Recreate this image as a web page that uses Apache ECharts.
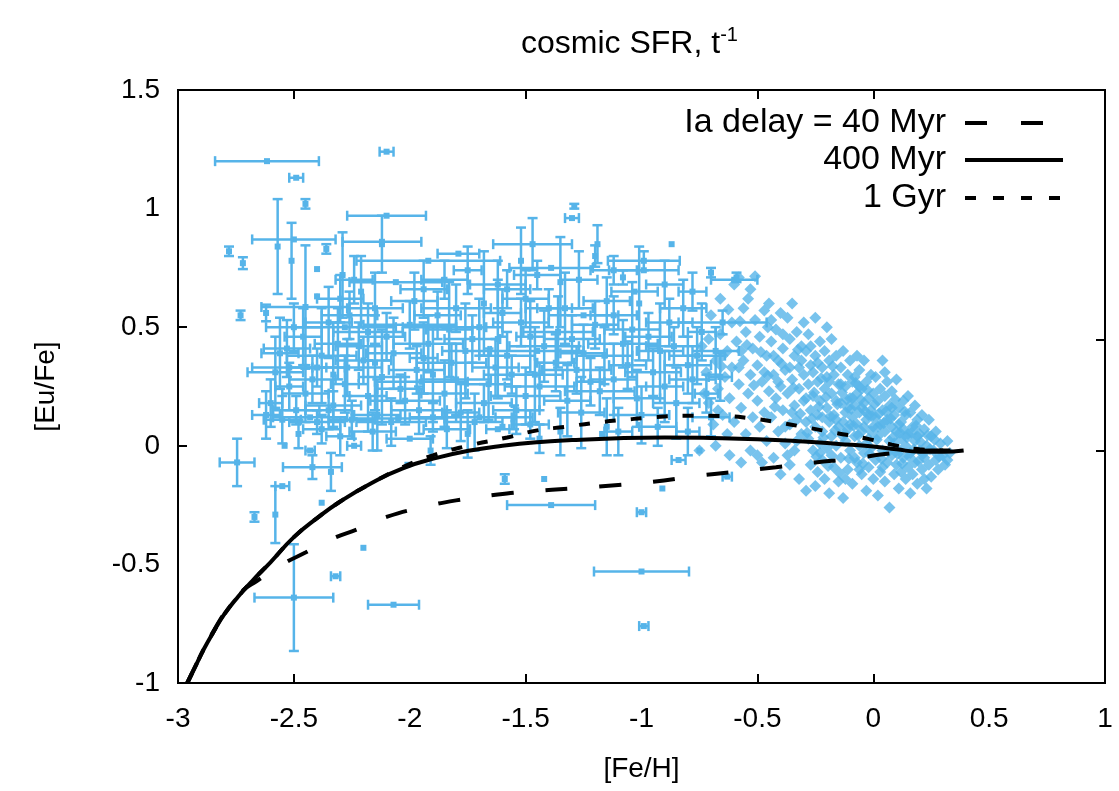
<!DOCTYPE html>
<html>
<head>
<meta charset="utf-8">
<script src="https://cdn.jsdelivr.net/npm/echarts@6/dist/echarts.min.js"></script>
<style>
  html, body { margin: 0; padding: 0; background: #fff; }
  #chart { width: 1119px; height: 791px; }
</style>
</head>
<body>
<div id="chart"></div>
<script>
// axis ticks (labels every 0.5, tick marks only where the original shows them)
var xTicksBottom = [-2.5, -1.5, -0.5, 0];
var yTicksLeft = [0.5, 0];
var yTicksRight = [0.446, -0.022];

// model curves [Fe/H, Eu/Fe]
var delay40 = [[-2.96,-1.0],[-2.90,-0.88],[-2.84,-0.77],[-2.78,-0.68],[-2.72,-0.61],[-2.66,-0.57],[-2.55,-0.5],[-2.45,-0.45],[-2.33,-0.39],[-2.22,-0.35],[-2.10,-0.30],[-1.95,-0.26],[-1.80,-0.23],[-1.62,-0.205],[-1.45,-0.19],[-1.27,-0.178],[-1.10,-0.165],[-0.95,-0.152],[-0.77,-0.128],[-0.60,-0.11],[-0.42,-0.09],[-0.25,-0.07],[-0.10,-0.055],[0.05,-0.035],[0.15,-0.025],[0.25,-0.02],[0.39,-0.02]];
var delay400 = [[-2.96,-1.0],[-2.92,-0.92],[-2.89,-0.86],[-2.85,-0.79],[-2.80,-0.71],[-2.74,-0.635],[-2.68,-0.57],[-2.60,-0.49],[-2.50,-0.385],[-2.40,-0.305],[-2.30,-0.235],[-2.17,-0.16],[-2.03,-0.095],[-1.88,-0.05],[-1.74,-0.02],[-1.60,0.0],[-1.45,0.015],[-1.30,0.024],[-1.10,0.032],[-0.90,0.035],[-0.70,0.033],[-0.50,0.028],[-0.30,0.018],[-0.15,0.008],[0.0,-0.003],[0.10,-0.015],[0.20,-0.025],[0.30,-0.025],[0.39,-0.02]];
var delay1000 = [[-2.96,-1.0],[-2.92,-0.92],[-2.89,-0.86],[-2.85,-0.79],[-2.80,-0.71],[-2.74,-0.635],[-2.68,-0.57],[-2.60,-0.49],[-2.50,-0.385],[-2.40,-0.305],[-2.30,-0.235],[-2.17,-0.16],[-2.03,-0.09],[-1.90,-0.04],[-1.75,0.0],[-1.58,0.035],[-1.45,0.065],[-1.33,0.08],[-1.20,0.097],[-1.07,0.11],[-0.95,0.12],[-0.80,0.127],[-0.66,0.126],[-0.52,0.115],[-0.40,0.097],[-0.28,0.076],[-0.16,0.054],[-0.04,0.033],[0.08,0.005],[0.20,-0.015],[0.30,-0.02],[0.39,-0.02]];

// halo stars with error bars [Fe/H, Eu/Fe, err Fe/H, err Eu/Fe]
var haloStars = [
  [-2.616,1.20,0.224,0.0],[-2.10,1.24,0.03,0.0],[-2.49,1.13,0.03,0.0],[-2.45,1.02,0.0,0.02],
  [-2.57,0.84,0.0,0.2],[-2.51,0.78,0.0,0.16],[-2.10,0.97,0.17,0.0],[-2.50,0.87,0.18,0.0],
  [-2.29,0.72,0.0,0.18],[-2.12,0.85,0.0,0.12],[-2.12,0.86,0.17,0.0],[-1.92,0.78,0.31,0.0],
  [-2.78,0.82,0.0,0.02],[-2.72,0.77,0.0,0.025],[-2.36,0.83,0.0,0.02],[-2.73,0.55,0.0,0.02],
  [-1.47,0.85,0.17,0.11],[-1.29,1.01,0.0,0.01],[-1.30,0.96,0.03,0.0],[-0.99,0.78,0.155,0.04],
  [-1.01,0.60,0.0,0.24],[-1.19,0.85,0.0,0.08],[-0.87,0.85,0.0,0.0],[-0.70,0.73,0.0,0.02],
  [-0.59,0.71,0.0,0.02],[-1.08,0.71,0.0,0.03],[-1.79,0.81,0.09,0.0],[-2.21,0.65,0.0,0.15],
  [-2.06,0.69,0.2,0.0],[-2.45,0.585,0.19,0.26],[-2.62,0.56,0.0,0.035],[-2.40,0.745,0.0,0.0],
  [-2.40,0.63,0.0,0.0],[-2.52,0.33,0.16,0.0],[-1.68,0.60,0.0,0.22],[-1.35,0.69,0.0,0.19],
  [-1.39,0.75,0.18,0.0],[-1.52,0.78,0.0,0.14],[-1.20,0.80,0.0,0.045],[-1.03,0.65,0.1,0.0],
  [-0.60,0.70,0.1,0.0],[-0.65,0.52,0.19,0.05],[-0.99,0.74,0.15,0.0],
  // rows of the crowded halo region
  [-2.55,0.11,0.08,0.10],[-2.40,0.10,0.12,0.05],[-2.25,0.11,0.10,0.08],[-2.08,0.10,0.15,0.10],
  [-1.90,0.12,0.10,0.06],[-1.72,0.10,0.12,0.12],[-1.55,0.12,0.08,0.05],
  [-2.48,0.05,0.0,0.06],[-2.30,0.04,0.06,0.08],[-2.00,0.03,0.10,0.0],[-1.75,0.05,0.0,0.10],
  [-1.62,0.07,0.05,0.0],[-1.35,0.06,0.0,0.10],[-1.15,0.08,0.0,0.12],
  [-2.60,0.18,0.05,0.10],[-2.45,0.22,0.10,0.12],[-2.33,0.17,0.12,0.06],[-2.18,0.21,0.08,0.15],
  [-2.02,0.19,0.15,0.10],[-1.85,0.22,0.10,0.14],[-1.68,0.18,0.12,0.08],[-1.50,0.21,0.15,0.12],
  [-1.32,0.19,0.10,0.15],[-1.18,0.23,0.15,0.10],[-1.02,0.20,0.10,0.12],[-0.85,0.18,0.10,0.15],
  [-0.72,0.22,0.05,0.08],
  [-2.58,0.31,0.12,0.15],[-2.42,0.28,0.10,0.10],[-2.27,0.33,0.15,0.12],[-2.12,0.29,0.10,0.20],
  [-1.97,0.32,0.12,0.10],[-1.80,0.28,0.15,0.15],[-1.63,0.33,0.10,0.12],[-1.46,0.30,0.12,0.20],
  [-1.28,0.32,0.15,0.10],[-1.12,0.28,0.10,0.15],[-0.95,0.31,0.12,0.10],[-0.80,0.34,0.10,0.12],
  [-0.66,0.29,0.05,0.10],
  [-2.53,0.41,0.10,0.12],[-2.38,0.38,0.15,0.20],[-2.22,0.42,0.10,0.10],[-2.07,0.39,0.12,0.15],
  [-1.92,0.43,0.15,0.12],[-1.76,0.40,0.10,0.20],[-1.58,0.38,0.12,0.10],[-1.42,0.42,0.15,0.15],
  [-1.25,0.39,0.10,0.12],[-1.08,0.43,0.15,0.10],[-0.92,0.40,0.10,0.20],[-0.76,0.38,0.12,0.12],
  [-2.50,0.50,0.12,0.10],[-2.35,0.52,0.10,0.15],[-2.18,0.48,0.15,0.12],[-2.00,0.51,0.20,0.10],
  [-1.83,0.49,0.10,0.20],[-1.70,0.50,0.10,0.12],[-1.52,0.52,0.12,0.10],[-1.36,0.48,0.15,0.15],
  [-1.20,0.51,0.10,0.10],[-1.04,0.49,0.12,0.20],[-0.88,0.52,0.10,0.10],
  [-2.30,0.62,0.10,0.10],[-2.15,0.58,0.12,0.15],[-1.98,0.61,0.10,0.12],[-1.80,0.58,0.15,0.10],
  [-1.50,0.62,0.10,0.12],[-1.33,0.58,0.12,0.15],[-1.15,0.61,0.10,0.10],[-0.82,0.58,0.10,0.12],
  [-1.85,0.70,0.10,0.08],[-1.62,0.68,0.12,0.10],[-1.45,0.72,0.10,0.06],
  [-2.35,0.15,0.10,0.08],[-2.28,0.26,0.06,0.12],[-2.20,0.36,0.12,0.10],[-2.14,0.13,0.10,0.15],
  [-2.10,0.46,0.08,0.10],[-2.04,0.24,0.10,0.06],[-1.96,0.15,0.12,0.10],[-1.94,0.37,0.06,0.15],
  [-1.88,0.55,0.10,0.10],[-1.82,0.35,0.15,0.08],[-1.78,0.14,0.08,0.12],[-1.73,0.45,0.12,0.10],
  [-1.66,0.26,0.10,0.15],[-1.60,0.56,0.08,0.10],[-1.56,0.30,0.12,0.08],[-1.54,0.15,0.10,0.10],
  [-1.48,0.46,0.06,0.15],[-1.44,0.25,0.15,0.10],[-1.40,0.58,0.10,0.08],[-1.37,0.35,0.08,0.12],
  [-1.30,0.45,0.12,0.10],[-1.26,0.14,0.10,0.15],[-1.22,0.27,0.06,0.10],[-1.16,0.38,0.12,0.12],
  [-1.12,0.55,0.10,0.08],[-1.06,0.34,0.08,0.10],[-1.00,0.13,0.12,0.12],[-0.97,0.46,0.10,0.10],
  [-0.90,0.25,0.08,0.15],[-0.86,0.42,0.12,0.08],[-0.78,0.28,0.10,0.10],[-0.74,0.48,0.06,0.12],
  [-0.70,0.12,0.08,0.08],[-0.68,0.40,0.10,0.10],
  [-2.46,0.46,0.08,0.12],[-2.40,0.33,0.12,0.08],[-2.31,0.43,0.10,0.15],[-2.26,0.55,0.12,0.10],
  [-2.52,0.25,0.06,0.10],[-2.56,0.39,0.08,0.15],[-2.62,0.13,0.06,0.10],[-2.49,0.15,0.10,0.06],
  [-2.38,0.07,0.08,0.06],[-2.16,0.06,0.10,0.08],[-1.84,0.07,0.10,0.08],[-1.48,0.09,0.08,0.06],
  [-1.10,0.06,0.06,0.10],[-0.93,0.08,0.08,0.08],[-0.80,0.06,0.05,0.10],
  [-2.24,0.70,0.08,0.10],[-1.94,0.66,0.10,0.12],[-1.75,0.74,0.06,0.10],[-1.58,0.66,0.10,0.08],
  [-1.27,0.70,0.08,0.12],[-1.12,0.74,0.10,0.06],[-0.90,0.68,0.08,0.10],[-0.78,0.65,0.06,0.08],
  [-2.43,0.12,0.16,0.0],[-2.05,0.115,0.2,0.0],[-1.70,0.12,0.14,0.0],[-2.28,0.50,0.22,0.0],
  [-1.85,0.50,0.18,0.0],[-1.45,0.40,0.2,0.0],[-1.95,0.27,0.2,0.0],[-1.25,0.55,0.15,0.0],
  [-2.15,0.35,0.0,0.2],[-1.62,0.45,0.0,0.25],[-1.90,0.30,0.0,0.2],[-2.33,0.30,0.0,0.22],
  // low outliers
  [-2.745,-0.07,0.075,0.10],[-2.58,-0.29,0.0,0.12],[-2.55,-0.17,0.03,0.0],[-2.67,-0.30,0.0,0.02],
  [-2.42,-0.09,0.127,0.05],[-2.34,-0.11,0.0,0.08],[-2.38,-0.24,0.0,0.0],[-2.20,-0.43,0.0,0.0],
  [-2.32,-0.55,0.02,0.0],[-2.50,-0.64,0.17,0.225],[-2.07,-0.67,0.11,0.0],[-1.91,-0.02,0.0,0.06],
  [-2.01,-0.08,0.0,0.0],[-2.24,0.0,0.03,0.0],[-2.43,-0.02,0.02,0.0],[-2.54,0.0,0.0,0.0],
  [-1.39,-0.25,0.19,0.0],[-1.59,-0.14,0.0,0.02],[-1.42,-0.14,0.0,0.0],[-1.44,0.03,0.0,0.06],
  [-0.84,-0.06,0.03,0.0],[-1.00,-0.28,0.02,0.0],[-0.91,-0.18,0.0,0.0],[-0.75,-0.02,0.0,0.0],
  [-0.63,-0.13,0.02,0.0],[-1.17,0.05,0.0,0.0],[-1.60,0.08,0.0,0.0],[-1.00,-0.53,0.205,0.0],
  [-0.99,-0.76,0.02,0.0]
];

// disk stars [Fe/H, Eu/Fe]
var diskStars = [
  [-0.74,0.42],[-0.72,0.31],[-0.71,0.18],[-0.70,0.55],[-0.69,0.09],[-0.68,0.36],[-0.67,0.24],[-0.66,0.62],
  [-0.66,0.47],[-0.65,0.13],[-0.64,0.29],[-0.63,0.05],[-0.63,0.40],[-0.62,0.20],[-0.61,0.52],[-0.61,0.33],
  [-0.60,0.68],[-0.60,0.10],[-0.73,0.22],[-0.68,0.0],[-0.75,-0.02],[-0.71,0.45],[-0.65,0.38],[-0.62,-0.04],[-0.67,0.15],
  [-0.59,0.44],[-0.58,0.71],[-0.58,0.26],[-0.57,0.16],[-0.57,-0.07],[-0.56,0.58],[-0.56,0.36],[-0.55,0.05],
  [-0.55,0.48],[-0.54,0.62],[-0.54,0.22],[-0.53,0.30],[-0.53,-0.02],[-0.52,0.41],[-0.52,0.12],[-0.51,0.715],
  [-0.51,0.53],[-0.50,0.19],[-0.50,0.34],[-0.49,0.08],[-0.49,0.46],[-0.48,-0.07],[-0.48,0.27],[-0.47,0.57],
  [-0.47,0.14],[-0.46,0.38],[-0.46,0.02],[-0.45,0.60],[-0.45,0.23],[-0.455,0.50],[-0.58,0.33],[-0.53,0.66],
  [-0.50,-0.04],[-0.57,0.40],[-0.47,0.31],
  [-0.44,0.44],[-0.44,0.12],[-0.43,0.30],[-0.43,-0.05],[-0.42,0.49],[-0.42,0.20],[-0.41,0.36],[-0.41,0.06],
  [-0.40,0.56],[-0.40,0.25],[-0.40,-0.12],[-0.39,0.41],[-0.39,0.15],[-0.38,0.32],[-0.38,0.01],[-0.37,0.54],
  [-0.37,0.22],[-0.36,0.45],[-0.36,0.09],[-0.36,-0.08],[-0.35,0.60],[-0.35,0.28],[-0.34,0.38],[-0.34,0.17],
  [-0.34,-0.02],[-0.33,0.48],[-0.33,0.11],[-0.32,0.33],[-0.32,0.24],[-0.32,-0.14],[-0.31,0.42],[-0.31,0.05],
  [-0.30,0.52],[-0.30,0.19],[-0.30,0.30],[-0.43,0.38],[-0.39,0.47],[-0.35,0.14],[-0.37,-0.04],[-0.41,0.27],
  [-0.33,0.02],[-0.31,0.36],[-0.44,0.53],[-0.38,0.08],[-0.36,0.33],
  [-0.29,0.40],[-0.29,0.10],[-0.29,-0.19],[-0.28,0.26],[-0.28,0.47],[-0.28,0.03],[-0.27,0.34],[-0.27,0.15],
  [-0.27,-0.08],[-0.26,0.31],[-0.26,0.21],[-0.26,-0.02],[-0.25,0.54],[-0.25,0.38],[-0.25,0.08],[-0.25,-0.17],
  [-0.24,0.27],[-0.24,0.13],[-0.24,-0.11],[-0.23,0.44],[-0.23,0.19],[-0.23,0.01],[-0.22,0.33],[-0.22,0.06],
  [-0.22,-0.06],[-0.21,0.24],[-0.21,0.40],[-0.21,-0.14],[-0.20,0.16],[-0.20,0.29],[-0.20,-0.01],[-0.19,0.36],
  [-0.19,0.10],[-0.19,-0.20],[-0.18,0.22],[-0.18,0.04],[-0.18,0.45],[-0.17,0.30],[-0.17,0.13],[-0.17,-0.09],
  [-0.16,0.19],[-0.16,0.38],[-0.16,0.00],[-0.15,0.26],[-0.15,0.08],[-0.15,-0.15],[-0.29,0.20],[-0.27,0.42],
  [-0.24,0.35],[-0.22,0.12],[-0.20,0.50],[-0.19,0.27],[-0.18,-0.04],[-0.16,0.11],[-0.23,-0.03],
  [-0.14,0.33],[-0.14,0.18],[-0.14,-0.05],[-0.13,0.40],[-0.13,0.10],[-0.13,-0.22],[-0.12,0.25],[-0.12,0.02],
  [-0.12,0.14],[-0.11,0.30],[-0.11,-0.10],[-0.11,0.07],[-0.10,0.36],[-0.10,0.20],[-0.10,-0.02],[-0.09,0.12],
  [-0.09,0.27],[-0.09,-0.16],[-0.08,0.04],[-0.08,0.29],[-0.08,0.17],[-0.07,0.22],[-0.07,-0.07],[-0.07,0.09],
  [-0.06,0.32],[-0.06,0.14],[-0.06,0.00],[-0.05,0.24],[-0.05,-0.12],[-0.05,0.06],[-0.04,0.36],[-0.04,0.18],
  [-0.04,-0.03],[-0.03,0.11],[-0.03,0.27],[-0.03,-0.19],[-0.02,0.20],[-0.02,0.03],[-0.02,-0.09],[-0.01,0.15],
  [-0.01,0.30],[-0.01,-0.01],[0.00,0.22],[0.00,0.08],[0.00,-0.14],[-0.14,0.26],[-0.12,-0.14],[-0.10,0.09],
  [-0.08,-0.05],[-0.06,0.25],[-0.05,0.16],[-0.03,0.01],[-0.02,0.13],[-0.13,0.04],[-0.09,0.20],[-0.07,0.38],
  [-0.04,0.08],[-0.01,0.06],[-0.11,0.16],[-0.06,-0.10],
  [0.01,0.29],[0.01,0.12],[0.01,-0.06],[0.02,0.19],[0.02,-0.21],[0.02,0.04],[0.03,0.24],[0.03,0.09],
  [0.03,-0.11],[0.04,0.36],[0.04,0.15],[0.04,-0.02],[0.05,0.06],[0.05,0.21],[0.05,-0.15],[0.06,0.11],
  [0.06,-0.07],[0.06,0.27],[0.07,0.02],[0.07,0.17],[0.07,-0.26],[0.08,0.08],[0.08,-0.04],[0.08,0.23],
  [0.09,0.13],[0.09,-0.12],[0.09,0.01],[0.10,0.28],[0.10,0.06],[0.10,-0.08],[0.11,0.16],[0.11,-0.02],
  [0.11,-0.18],[0.12,0.10],[0.12,0.03],[0.12,-0.11],[0.13,0.19],[0.13,-0.05],[0.13,0.07],[0.14,0.13],
  [0.14,-0.14],[0.14,0.00],[0.15,0.21],[0.15,0.05],[0.15,-0.09],[0.02,0.08],[0.05,0.31],[0.08,0.16],
  [0.11,0.09],[0.04,-0.09],
  [0.16,0.14],[0.16,-0.03],[0.16,-0.20],[0.17,0.08],[0.17,-0.12],[0.18,0.02],[0.18,0.17],[0.18,-0.07],
  [0.19,0.11],[0.19,-0.16],[0.20,0.05],[0.20,-0.02],[0.21,0.13],[0.21,-0.10],[0.22,0.07],[0.22,-0.05],
  [0.23,0.00],[0.23,-0.18],[0.24,0.11],[0.24,-0.08],[0.25,0.04],[0.25,-0.13],[0.26,-0.02],[0.27,0.06],
  [0.27,-0.06],[0.28,-0.10],[0.29,0.01],[0.30,-0.04],[0.19,0.04],[0.22,-0.14],
  [0.31,-0.08],[0.32,0.02],[0.32,-0.06],[0.33,-0.03],
  // extra stars filling the densest part of the disk clump
  [-0.285,0.055],[-0.265,0.115],[-0.255,0.225],[-0.245,-0.045],[-0.235,0.165],[-0.225,0.285],[-0.215,0.035],
  [-0.205,0.205],[-0.195,-0.085],[-0.185,0.125],[-0.175,0.335],[-0.165,0.065],[-0.155,0.175],[-0.145,-0.115],
  [-0.135,0.225],[-0.125,0.055],[-0.115,0.195],[-0.105,-0.055],[-0.095,0.155],[-0.085,0.085],[-0.075,0.265],
  [-0.065,0.045],[-0.055,0.195],[-0.045,-0.075],[-0.035,0.145],[-0.025,0.235],[-0.015,-0.035],[-0.005,0.125],
  [0.005,0.175],[0.015,0.025],[0.025,0.135],[0.035,-0.055],[0.045,0.095],[0.055,0.145],[0.065,-0.025],
  [0.075,0.115],[0.085,0.035],[0.095,0.195],[0.105,-0.035],[0.115,0.055],[0.125,-0.075],[0.135,0.145],
  [0.145,0.035],[0.155,-0.045],[0.165,0.055],[0.175,-0.015],[0.185,0.085],[0.195,-0.065],[0.205,0.015],
  [0.215,-0.035],[0.235,0.045],[0.245,-0.015],[0.265,0.025],[0.285,-0.045],
  [-0.345,0.245],[-0.325,0.405],[-0.315,0.135],[-0.395,0.345],[-0.425,0.165],[-0.455,0.295],[-0.485,0.395],
  [-0.515,0.255],[-0.545,0.425],[-0.575,0.525],[-0.625,0.575],[-0.655,0.335]
];

var BLUE = '#56b4e9';
var FONT = 'Liberation Sans, Arial, Helvetica, sans-serif';

var myChart = echarts.init(document.getElementById('chart'));

function renderErrorBar(params, api) {
  var x = api.value(0), y = api.value(1), dx = api.value(2), dy = api.value(3);
  var c = api.coord([x, y]);
  var st = { stroke: BLUE, lineWidth: 2.5 };
  var kids = [];
  var cap = 5;
  if (dx > 0) {
    var l = api.coord([x - dx, y]), r = api.coord([x + dx, y]);
    kids.push({ type: 'line', shape: { x1: l[0], y1: c[1], x2: r[0], y2: c[1] }, style: st });
    kids.push({ type: 'line', shape: { x1: l[0], y1: c[1] - cap, x2: l[0], y2: c[1] + cap }, style: st });
    kids.push({ type: 'line', shape: { x1: r[0], y1: c[1] - cap, x2: r[0], y2: c[1] + cap }, style: st });
  }
  if (dy > 0) {
    var t = api.coord([x, y + dy]), b = api.coord([x, y - dy]);
    kids.push({ type: 'line', shape: { x1: c[0], y1: t[1], x2: c[0], y2: b[1] }, style: st });
    kids.push({ type: 'line', shape: { x1: c[0] - cap, y1: t[1], x2: c[0] + cap, y2: t[1] }, style: st });
    kids.push({ type: 'line', shape: { x1: c[0] - cap, y1: b[1], x2: c[0] + cap, y2: b[1] }, style: st });
  }
  kids.push({ type: 'rect', shape: { x: c[0] - 3, y: c[1] - 3, width: 6, height: 6 }, style: { fill: BLUE } });
  return { type: 'group', children: kids };
}

function legendFor(name, top, dash) {
  return {
    data: [name],
    right: 49,
    top: top,
    align: 'right',
    orient: 'vertical',
    itemWidth: 98,
    itemHeight: 14,
    selectedMode: false,
    itemStyle: { opacity: 0 },
    lineStyle: { width: 4, type: dash, color: '#000' },
    textStyle: { fontFamily: FONT, fontSize: 34, color: '#000', padding: [0, 14, 0, 0] }
  };
}

function plainAxisLine() {
  return { show: false, onZero: false };
}

myChart.setOption({
  animation: false,
  backgroundColor: '#fff',
  title: {
    text: '{a|cosmic SFR, t}{b|-1}',
    left: 516,
    top: 20,
    textStyle: {
      rich: {
        a: { fontFamily: FONT, fontSize: 32, fontWeight: 'normal', color: '#000', lineHeight: 38 },
        b: { fontFamily: FONT, fontSize: 20, fontWeight: 'normal', color: '#000', lineHeight: 38, verticalAlign: 'top', padding: [0, 0, 16, 0] }
      }
    }
  },
  legend: [
    legendFor('Ia delay = 40 Myr', 101, [22, 34]),
    legendFor('400 Myr', 138, 'solid'),
    legendFor('1 Gyr', 176, [11, 17])
  ],
  grid: {
    left: 178, right: 14, top: 90, bottom: 108,
    show: true, borderColor: '#000', borderWidth: 2, backgroundColor: 'transparent'
  },
  xAxis: [
    {
      type: 'value', min: -3, max: 1, interval: 0.5,
      name: '[Fe/H]', nameLocation: 'middle', nameGap: 72,
      nameTextStyle: { fontFamily: FONT, fontSize: 28, color: '#000' },
      axisLine: plainAxisLine(),
      axisTick: { show: true, inside: true, length: 9, customValues: xTicksBottom, lineStyle: { color: '#000', width: 2 } },
      axisLabel: { color: '#000', fontFamily: FONT, fontSize: 28, margin: 22 },
      splitLine: { show: false }
    },
    {
      type: 'value', min: -3, max: 1, interval: 0.5, position: 'top',
      axisLine: plainAxisLine(),
      axisTick: { show: true, inside: true, length: 9, customValues: xTicksBottom, lineStyle: { color: '#000', width: 2 } },
      axisLabel: { show: false },
      splitLine: { show: false }
    }
  ],
  yAxis: [
    {
      type: 'value', min: -1, max: 1.5, interval: 0.5,
      name: '[Eu/Fe]', nameLocation: 'middle', nameGap: 118, nameRotate: 90,
      nameTextStyle: { fontFamily: FONT, fontSize: 28, color: '#000' },
      axisLine: plainAxisLine(),
      axisTick: { show: true, inside: true, length: 9, customValues: yTicksLeft, lineStyle: { color: '#000', width: 2 } },
      axisLabel: { color: '#000', fontFamily: FONT, fontSize: 28, margin: 18 },
      splitLine: { show: false }
    },
    {
      type: 'value', min: -1, max: 1.5, interval: 0.5, position: 'right',
      axisLine: plainAxisLine(),
      axisTick: { show: true, inside: true, length: 9, customValues: yTicksRight, lineStyle: { color: '#000', width: 2 } },
      axisLabel: { show: false },
      splitLine: { show: false }
    }
  ],
  series: [
    {
      type: 'custom',
      name: 'halo',
      renderItem: renderErrorBar,
      encode: { x: 0, y: 1 },
      data: haloStars,
      z: 2
    },
    {
      type: 'scatter',
      name: 'disk',
      symbol: 'diamond',
      symbolSize: 12,
      itemStyle: { color: BLUE },
      data: diskStars,
      z: 2
    },
    {
      type: 'line', name: 'Ia delay = 40 Myr', data: delay40, showSymbol: false, symbol: 'none', smooth: true,
      lineStyle: { color: '#000', width: 4, type: [22, 32] }, itemStyle: { color: '#000' }, z: 5
    },
    {
      type: 'line', name: '400 Myr', data: delay400, showSymbol: false, symbol: 'none', smooth: true,
      lineStyle: { color: '#000', width: 4, type: 'solid' }, itemStyle: { color: '#000' }, z: 5
    },
    {
      type: 'line', name: '1 Gyr', data: delay1000, showSymbol: false, symbol: 'none', smooth: true,
      lineStyle: { color: '#000', width: 4, type: [11, 15] }, itemStyle: { color: '#000' }, z: 5
    }
  ]
});
</script>
</body>
</html>
